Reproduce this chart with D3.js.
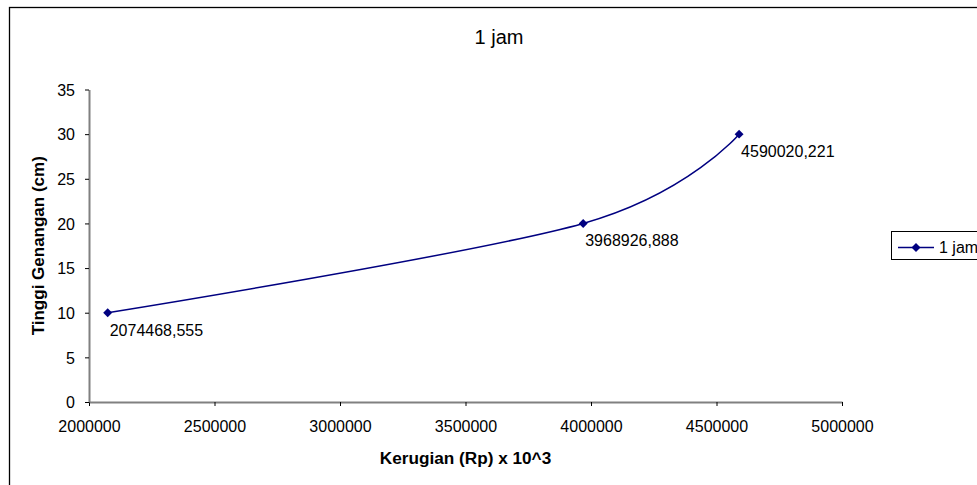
<!DOCTYPE html>
<html>
<head>
<meta charset="utf-8">
<script src="https://cdn.jsdelivr.net/npm/d3@7"></script>
<style>
    body { margin: 0; background: #fff; }
    svg { display: block; font-family: 'Liberation Sans', Arial, sans-serif; }
</style>
</head>
<body>
<div id="chart"></div>
<script>
// data
const kerugian = [2074468.555, 3968926.888, 4590020.221];
const tinggi = [10, 20, 30];
const labels = ['2074468,555', '3968926,888', '4590020,221'];
const xTicks = [2000000, 2500000, 3000000, 3500000, 4000000, 4500000, 5000000];
const yTicks = [0, 5, 10, 15, 20, 25, 30, 35];
const seriesName = '1 jam';

const width = 977;
const height = 485;
const plot = { left: 89, right: 842, top: 89.5, bottom: 402 };
const navy = '#000080';

const x = d3.scaleLinear()
    .domain([2000000, 5000000])
    .range([plot.left, plot.right]);

const y = d3.scaleLinear()
    .domain([0, 35])
    .range([plot.bottom, plot.top]);

const svg = d3.select('#chart')
    .append('svg')
    .attr('width', width)
    .attr('height', height);

// chart area border (runs off the right and bottom edges)
svg.append('rect')
    .attr('x', 9.5)
    .attr('y', 7.5)
    .attr('width', 990)
    .attr('height', 500)
    .attr('fill', '#fff')
    .attr('stroke', '#000')
    .attr('stroke-width', 1.3);

svg.append('text')
    .attr('x', 499)
    .attr('y', 44)
    .attr('text-anchor', 'middle')
    .style('font-size', '20px')
    .text(seriesName);

// axes
let xAxis = svg.append('g')
    .attr('transform', 'translate(0,' + plot.bottom + ')')
    .call(d3.axisBottom(x).tickValues(xTicks).tickFormat(d3.format('d')).tickSize(4).tickPadding(15).tickSizeOuter(0));

let yAxis = svg.append('g')
    .attr('transform', 'translate(' + plot.left + ',0)')
    .call(d3.axisLeft(y).tickValues(yTicks).tickSize(4).tickPadding(10).tickSizeOuter(0));

[xAxis, yAxis].forEach(g => {
    g.select('.domain').attr('stroke', '#808080').attr('stroke-width', 2);
    g.selectAll('.tick line').attr('stroke', '#000').attr('stroke-width', 1);
    g.selectAll('.tick text')
        .attr('fill', '#000')
        .style('font-size', '16px')
        .style('font-family', "'Liberation Sans', Arial, sans-serif");
});
yAxis.selectAll('.tick text').attr('dy', '0.36em');

svg.append('text')
    .attr('x', (plot.left + plot.right) / 2)
    .attr('y', 464)
    .attr('text-anchor', 'middle')
    .style('font-size', '17.2px')
    .style('font-weight', 'bold')
    .text('Kerugian (Rp) x 10^3');

svg.append('text')
    .attr('transform', 'translate(44,' + (plot.top + plot.bottom) / 2 + ') rotate(-90)')
    .attr('text-anchor', 'middle')
    .style('font-size', '17px')
    .style('font-weight', 'bold')
    .text('Tinggi Genangan (cm)');

// series, smoothed like the spreadsheet (control legs of 1/6)
const data = kerugian.map((k, i) => ({ x: k, y: tinggi[i], label: labels[i] }));

const line = d3.line()
    .x(d => x(d.x))
    .y(d => y(d.y))
    .curve(d3.curveCardinal.tension(0));

svg.append('path')
    .attr('d', line(data))
    .attr('fill', 'none')
    .attr('stroke', navy)
    .attr('stroke-width', 1.5);

const diamond = d3.symbol(d3.symbolSquare, 40);

svg.selectAll('path.marker')
    .data(data)
    .enter()
    .append('path')
    .attr('class', 'marker')
    .attr('d', diamond)
    .attr('transform', d => 'translate(' + x(d.x) + ',' + y(d.y) + ') rotate(45)')
    .attr('fill', navy);

svg.selectAll('text.dlabel')
    .data(data)
    .enter()
    .append('text')
    .attr('class', 'dlabel')
    .attr('x', d => x(d.x) + 2)
    .attr('y', d => y(d.y) + 23)
    .style('font-size', '16px')
    .text(d => d.label);

// legend
let legend = svg.append('g')
    .attr('transform', 'translate(891,231)');

legend.append('rect')
    .attr('x', 0.5)
    .attr('y', 0.5)
    .attr('width', 120)
    .attr('height', 28)
    .attr('fill', '#fff')
    .attr('stroke', '#000')
    .attr('stroke-width', 1);

legend.append('line')
    .attr('x1', 7)
    .attr('x2', 43)
    .attr('y1', 16.5)
    .attr('y2', 16.5)
    .attr('stroke', navy)
    .attr('stroke-width', 1.5);

legend.append('path')
    .attr('d', diamond)
    .attr('transform', 'translate(25,16.5) rotate(45)')
    .attr('fill', navy);

legend.append('text')
    .attr('x', 48)
    .attr('y', 22)
    .style('font-size', '16px')
    .text(seriesName);
</script>
</body>
</html>
